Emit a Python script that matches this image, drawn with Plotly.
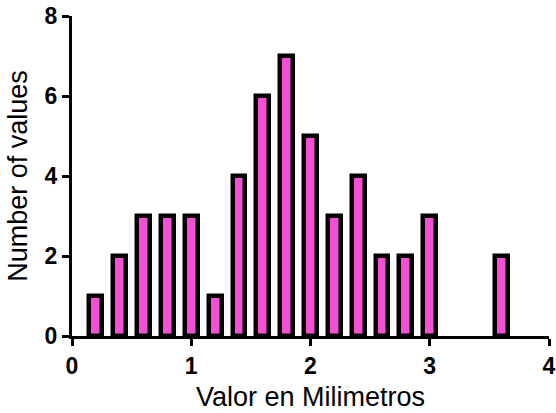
import plotly.graph_objects as go

# Histogram bin centres (mm) and counts
bin_centers = [0.2, 0.4, 0.6, 0.8, 1.0, 1.2, 1.4, 1.6, 1.8, 2.0, 2.2, 2.4, 2.6, 2.8, 3.0, 3.6]
counts = [1, 2, 3, 3, 3, 1, 4, 6, 7, 5, 3, 4, 2, 2, 3, 2]

x_ticks = [0, 1, 2, 3, 4]
y_ticks = [0, 2, 4, 6, 8]

FONT = "Liberation Sans, Arial, sans-serif"

fig = go.Figure(
    go.Bar(
        x=bin_centers,
        y=counts,
        width=0.108,
        marker=dict(color="#F54FD6", line=dict(color="black", width=4.5)),
    )
)

axis_common = dict(
    showline=True,
    linewidth=3,
    linecolor="black",
    ticks="outside",
    ticklen=7,
    tickwidth=3,
    tickcolor="black",
    showgrid=False,
    zeroline=False,
    automargin=False,
    tickfont=dict(family=FONT, size=23, color="black", weight="bold"),
)

fig.update_xaxes(
    range=[0, 4],
    tickvals=x_ticks,
    title=dict(text="Valor en Milimetros", font=dict(family=FONT, size=27, color="black"), standoff=10),
    **axis_common,
)
fig.update_yaxes(
    range=[0, 8],
    tickvals=y_ticks,
    title=dict(text="Number of values", font=dict(family=FONT, size=27, color="black"), standoff=10),
    **axis_common,
)

fig.update_layout(
    width=556,
    height=413,
    margin=dict(l=72, r=7, t=16, b=77, autoexpand=False),
    plot_bgcolor="white",
    paper_bgcolor="white",
    showlegend=False,
    bargap=0,
)

fig.write_html("out.html")
